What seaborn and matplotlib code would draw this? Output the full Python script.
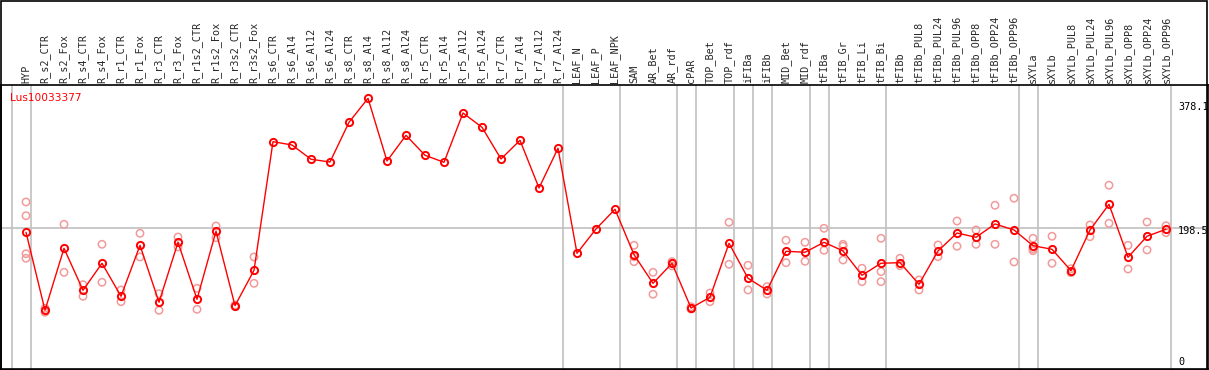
import numpy as np
import pandas as pd
import matplotlib
matplotlib.use("Agg")
import matplotlib.pyplot as plt
import seaborn as sns

# columnas (muestras)
categories = [
    "HYP", "R_s2_CTR", "R_s2_Fox", "R_s4_CTR", "R_s4_Fox", "R_r1_CTR", "R_r1_Fox",
    "R_r3_CTR", "R_r3_Fox", "R_r1s2_CTR", "R_r1s2_Fox", "R_r3s2_CTR", "R_r3s2_Fox",
    "R_s6_CTR", "R_s6_Al4", "R_s6_Al12", "R_s6_Al24", "R_s8_CTR", "R_s8_Al4",
    "R_s8_Al12", "R_s8_Al24", "R_r5_CTR", "R_r5_Al4", "R_r5_Al12", "R_r5_Al24",
    "R_r7_CTR", "R_r7_Al4", "R_r7_Al12", "R_r7_Al24", "LEAF_N", "LEAF_P", "LEAF_NPK",
    "SAM", "AR_Bet", "AR_rdf", "cPAR", "TOP_Bet", "TOP_rdf", "iFIBa", "iFIBb",
    "MID_Bet", "MID_rdf", "tFIBa", "tFIB_Gr", "tFIB_Li", "tFIB_Bi", "tFIBb",
    "tFIBb_PUL8", "tFIBb_PUL24", "tFIBb_PUL96", "tFIBb_OPP8", "tFIBb_OPP24",
    "tFIBb_OPP96", "sXYLa", "sXYLb", "sXYLb_PUL8", "sXYLb_PUL24", "sXYLb_PUL96",
    "sXYLb_OPP8", "sXYLb_OPP24", "sXYLb_OPP96",
]

# valor medio por muestra
mean_vals = [
    193.0, 85.2, 170.9, 112.9, 150.2, 104.6, 175.0, 96.3, 179.2, 100.4, 194.4, 91.6, 140.5,
    318.2, 313.6, 293.9, 290.1, 345.0, 378.1, 291.5, 327.0, 299.4, 289.7, 357.8, 338.1,
    294.3, 320.1, 254.2, 309.1, 164.0, 197.6, 224.8,
    162.1, 122.5, 150.2, 88.4, 103.2, 177.8, 129.5, 112.9, 166.8, 165.4, 179.2, 167.2,
    133.6, 150.2, 151.0, 121.2, 167.2, 192.0, 186.1, 204.5, 196.2, 174.5, 169.5, 140.0,
    196.2, 231.7, 158.5, 187.5, 197.2,
]

# replicas
rep_vals = [
    [234.9, 215.9, 163.4, 157.1], [88.0, 82.5], [204.1, 137.7], [120.6, 104.6],
    [176.4, 123.9], [113.3, 97.1], [191.6, 158.9], [108.2, 85.2], [186.5, 172.7],
    [115.6, 86.6], [201.7, 185.5], [92.5, 90.5], [158.9, 122.5],
    [], [], [], [], [], [], [], [], [], [], [], [], [], [], [], [], [], [], [],
    [175.0, 159.3, 152.4], [137.7, 107.4], [152.4, 146.5], [90.2, 87.0], [109.1, 97.1],
    [206.8, 148.8], [147.4, 113.3], [117.9, 107.8], [182.0, 151.0], [179.2, 152.9],
    [198.5, 168.1], [176.4, 173.7, 154.7], [143.3, 124.8], [184.7, 138.6, 124.8],
    [157.1, 146.9], [127.1, 113.3], [175.5, 159.3], [208.6, 173.7], [196.2, 176.4],
    [230.3, 176.4], [240.0, 152.0], [184.7, 170.4, 167.6], [187.5, 150.2],
    [142.7, 137.2], [203.1, 186.9], [258.0, 205.4], [175.0, 142.3], [207.2, 168.6],
    [202.1, 192.5],
]

# fin de cada grupo (linea vertical gris)
group_ends = [-1, 0, 28, 31, 34, 35, 37, 38, 39, 41, 42, 45, 52, 53, 60]

gene = "Lus10033377"
y_marks = [378.1, 198.5, 0]

df_mean = pd.DataFrame({"x": np.arange(len(categories)), "value": mean_vals})
df_rep = pd.DataFrame(
    [(i, v) for i, vals in enumerate(rep_vals) for v in vals], columns=["x", "value"]
)

sns.set_style("white")
mono = "DejaVu Sans Mono"

fig = plt.figure(figsize=(12.09, 3.70), dpi=100)
ax = fig.add_axes([1 / 1209, 0.7 / 370, 1207 / 1209, 284.3 / 370])

ax.axhline(198.5, color="#c0c0c0", lw=1.2, zorder=0)
for g in group_ends:
    ax.axvline(g + 0.24, color="#c0c0c0", lw=1.2, zorder=0)

sns.scatterplot(data=df_rep, x="x", y="value", ax=ax, marker="o", s=28,
                facecolors="none", edgecolor="#f29a9a", linewidth=1.1, zorder=2)
sns.lineplot(data=df_mean, x="x", y="value", ax=ax, color="red", lw=1,
             marker="o", markersize=5.2, markerfacecolor="none",
             markeredgecolor="red", markeredgewidth=1.4, zorder=3)

ax.set_xlim(-1.316, 62.21)
ax.set_ylim(3.7, 396.5)
ax.set_xlabel("")
ax.set_ylabel("")
ax.set_yticks([])
ax.xaxis.tick_top()
ax.set_xticks(range(len(categories)))
ax.set_xticklabels(categories, rotation=90, fontfamily=mono, fontsize=7.3)
ax.tick_params(axis="x", length=0, pad=1.5)
for s in ax.spines.values():
    s.set_color("black")
    s.set_linewidth(1.2)

ax.text(9 / 1207, 0.955, gene, transform=ax.transAxes, color="red",
        fontsize=7.6, va="center", ha="left")

offsets = [-9, -2.5, 10]
for val, off in zip(y_marks, offsets):
    ax.annotate(f"{val:g}", xy=(0.9752, val), xycoords=ax.get_yaxis_transform(),
                xytext=(0, off), textcoords="offset pixels", ha="left", va="center",
                fontfamily=mono, fontsize=7.3, color="black", annotation_clip=False)

fig.add_artist(plt.Rectangle((0.0005, 0.001), 0.998, 0.997, transform=fig.transFigure,
                             fill=False, ec="black", lw=1.2))

fig.savefig("out.png", dpi=100)
